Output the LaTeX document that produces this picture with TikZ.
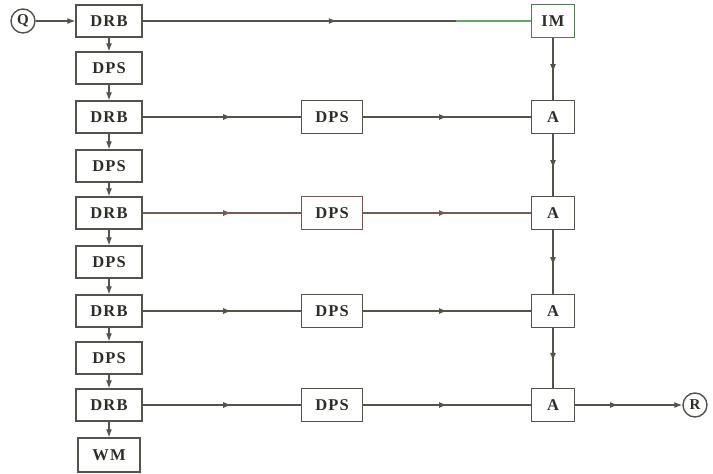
\documentclass[tikz,border=0pt]{standalone}
\usepackage{fontspec}
\setmainfont{Liberation Serif}
\usetikzlibrary{arrows.meta,decorations.markings,calc}
\definecolor{linec}{RGB}{80,84,74}
\definecolor{textc}{RGB}{45,45,40}
\definecolor{redc}{RGB}{125,88,82}
\definecolor{greenc}{RGB}{95,170,105}
\newcommand\mybxfont{\fontsize{16.5}{16.5}\selectfont\bfseries\addfontfeatures{LetterSpace=7}}
\begin{document}
\begin{tikzpicture}[x=1pt,y=-1pt,
  blk/.style={draw=linec, line width=1.3pt, minimum width=66pt, minimum height=32pt, inner sep=0pt, font=\mybxfont, text=textc},
  mblk/.style={blk, minimum width=61pt, minimum height=33pt},
  rblk/.style={blk, minimum width=43pt, minimum height=33pt},
  term/.style={draw=linec, line width=1.4pt, circle, minimum size=24pt, inner sep=0pt, font=\fontsize{15}{15}\selectfont\bfseries, text=textc},
  conn/.style={draw=linec, line width=1.2pt},
  tip/.style={-{Latex[length=8pt,width=6pt]}},
  midarrow/.style={postaction={decorate}, decoration={markings, mark=at position #1 with {\arrow{Latex[length=8pt,width=6pt]}}}}
]
\useasboundingbox (0,0) rectangle (713,474);
% left column
\node[term] (q) at (23,21) {Q};
\node[blk] (l0) at (109,21) {DRB};
\node[blk] (l1) at (109,68) {DPS};
\node[blk] (l2) at (109,117) {DRB};
\node[blk] (l3) at (109,166) {DPS};
\node[blk] (l4) at (109,213) {DRB};
\node[blk] (l5) at (109,262) {DPS};
\node[blk] (l6) at (109,311) {DRB};
\node[blk] (l7) at (109,358) {DPS};
\node[blk] (l8) at (109,405) {DRB};
\node[blk, minimum width=62pt, minimum height=34pt] (l9) at (109,455) {WM};
% middle column
\node[mblk] (m2) at (332,117) {DPS};
\node[mblk, draw=redc!70!linec] (m4) at (332,213) {DPS};
\node[mblk] (m6) at (332,311) {DPS};
\node[mblk] (m8) at (332,405) {DPS};
% right column
\node[rblk, draw=greenc!40!linec] (r0) at (553,21) {IM};
\node[rblk] (r2) at (553,117) {A};
\node[rblk] (r4) at (553,213) {A};
\node[rblk] (r6) at (553,311) {A};
\node[rblk] (r8) at (553,405) {A};
\node[term] (rr) at (695,405) {R};
% input
\draw[conn, tip] (q) -- (l0);
% left vertical chain
\foreach \a/\b in {l0/l1,l1/l2,l2/l3,l3/l4,l4/l5,l5/l6,l6/l7,l7/l8,l8/l9}
  \draw[conn, tip] (\a) -- (\b);
% top row
\draw[conn, midarrow=0.5] (l0) -- (r0);
\draw[draw=greenc, line width=1.2pt] ($(r0.west)+(-75,0)$) -- (r0.west);
% rows with DPS
\draw[conn, midarrow=0.56] (l2) -- (m2);
\draw[conn, midarrow=0.5] (m2) -- (r2);
\draw[conn, draw=redc, midarrow=0.56] (l4) -- (m4);
\draw[conn, draw=redc, midarrow=0.5] (m4) -- (r4);
\draw[conn, midarrow=0.56] (l6) -- (m6);
\draw[conn, midarrow=0.5] (m6) -- (r6);
\draw[conn, midarrow=0.56] (l8) -- (m8);
\draw[conn, midarrow=0.5] (m8) -- (r8);
% right vertical chain
\foreach \a/\b in {r0/r2,r2/r4,r4/r6,r6/r8}
  \draw[conn, midarrow=0.55] (\a) -- (\b);
% output
\draw[conn, tip, midarrow=0.4] (r8) -- (rr);
\end{tikzpicture}
\end{document}
